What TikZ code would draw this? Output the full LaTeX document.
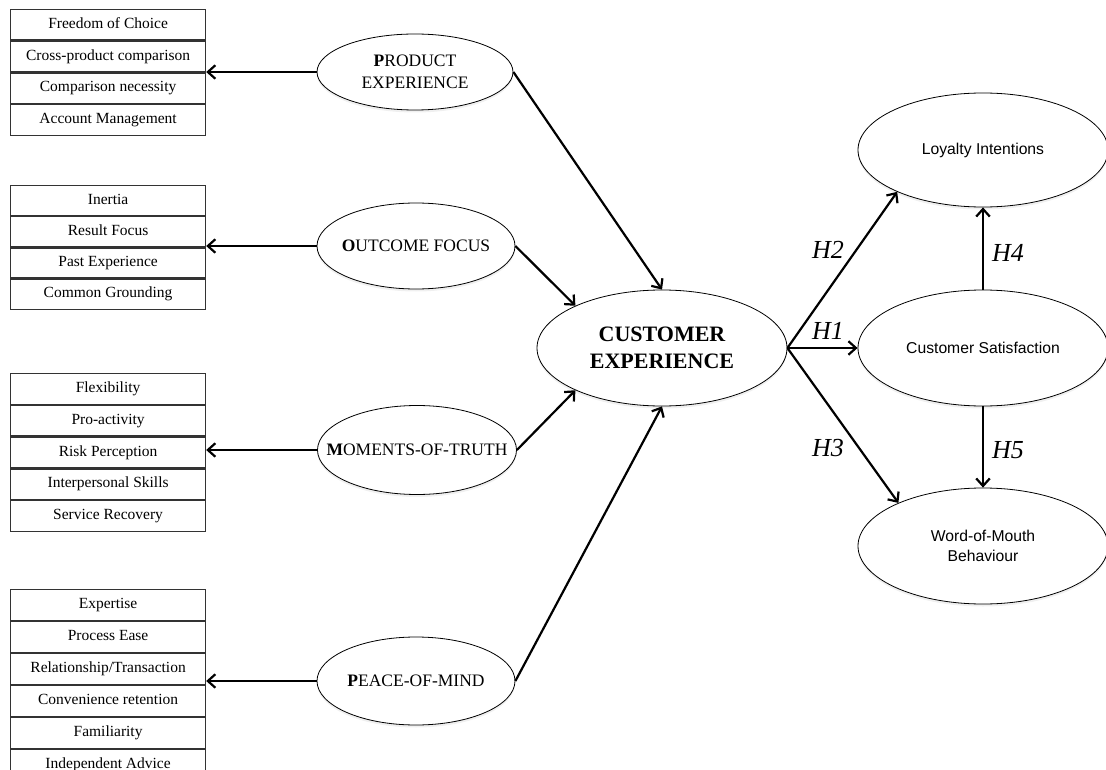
\documentclass[tikz,border=0pt]{standalone}
\usepackage{fontspec}
\setmainfont{Liberation Serif}
\setsansfont{Liberation Sans}
\usetikzlibrary{arrows.meta,shapes.geometric,shadows}

\tikzset{
  item/.style={draw=black!80, line width=1.2pt, minimum width=195pt, minimum height=30.5pt,
    inner sep=0pt, anchor=north west, text height=10.5pt, text depth=3.5pt,
    font=\fontsize{15.5}{18}\selectfont},
  oval/.style={ellipse, draw, line width=0.8pt, fill=white, inner sep=0pt,
    drop shadow={shadow xshift=0pt, shadow yshift=-2.5pt, opacity=0.12}},
  factor/.style={oval, label={[align=center, inner sep=0pt,
    font=\fontsize{17.5}{22}\selectfont]center:#1}},
  core/.style={oval, label={[align=center, inner sep=0pt,
    font=\bfseries\fontsize{22}{27}\selectfont]center:#1}},
  outcome/.style={oval, label={[align=center, inner sep=0pt,
    font=\sffamily\fontsize{15.7}{20}\selectfont]center:#1}},
  link/.style={line width=2.2pt, -{Straight Barb[length=7.5pt,width=13.5pt]}},
  hyp/.style={font=\itshape\fontsize{26}{28}\selectfont, inner sep=0pt},
}

\begin{document}
\begin{tikzpicture}[x=1pt,y=-1pt]
\useasboundingbox (0,0) rectangle (1106,770);

% ---- measure boxes ----
\node[item] (a1) at (10,9)     {Freedom of Choice};
\node[item] (a2) at (a1.south west) {Cross-product comparison};
\node[item] (a3) at (a2.south west) {Comparison necessity};
\node[item] (a4) at (a3.south west) {Account Management};

\node[item, minimum height=30pt] (b1) at (10,185) {Inertia};
\node[item, minimum height=30pt] (b2) at (b1.south west) {Result Focus};
\node[item, minimum height=30pt] (b3) at (b2.south west) {Past Experience};
\node[item, minimum height=30pt] (b4) at (b3.south west) {Common Grounding};

\node[item, minimum height=30.6pt] (c1) at (10,373) {Flexibility};
\node[item, minimum height=30.6pt] (c2) at (c1.south west) {Pro-activity};
\node[item, minimum height=30.6pt] (c3) at (c2.south west) {Risk Perception};
\node[item, minimum height=30.6pt] (c4) at (c3.south west) {Interpersonal Skills};
\node[item, minimum height=30.6pt] (c5) at (c4.south west) {Service Recovery};

\node[item, minimum height=30.8pt] (d1) at (10,589) {Expertise};
\node[item, minimum height=30.8pt] (d2) at (d1.south west) {Process Ease};
\node[item, minimum height=30.8pt] (d3) at (d2.south west) {Relationship/Transaction};
\node[item, minimum height=30.8pt] (d4) at (d3.south west) {Convenience retention};
\node[item, minimum height=30.8pt] (d5) at (d4.south west) {Familiarity};
\node[item, minimum height=30.8pt] (d6) at (d5.south west) {Independent Advice};

% ---- first-order factors ----
\node[factor={\textbf{P}RODUCT\\EXPERIENCE}, minimum width=196pt, minimum height=76pt] (pe) at (415,72) {};
\node[factor={\textbf{O}UTCOME FOCUS}, minimum width=198pt, minimum height=86pt] (of) at (416,246) {};
\node[factor={\textbf{M}OMENTS-OF-TRUTH}, minimum width=199pt, minimum height=89pt] (mt) at (417,450) {};
\node[factor={\textbf{P}EACE-OF-MIND}, minimum width=198pt, minimum height=88pt] (pm) at (416,681) {};

% ---- central construct ----
\node[core={CUSTOMER\\EXPERIENCE}, minimum width=250pt, minimum height=116pt] (ce) at (662,348) {};

% ---- outcomes ----
\node[outcome={Loyalty Intentions}, minimum width=250pt, minimum height=114pt] (li) at (983,150) {};
\node[outcome={Customer Satisfaction}, minimum width=250pt, minimum height=116pt] (cs) at (983,348) {};
\node[outcome={Word-of-Mouth\\Behaviour}, minimum width=250pt, minimum height=116pt] (wm) at (983,546) {};

% ---- factors to their measures ----
\draw[link] (pe.west) -- (pe.west -| a2.east);
\draw[link] (of.west) -- (of.west -| b2.east);
\draw[link] (mt.west) -- (mt.west -| c3.east);
\draw[link] (pm.west) -- (pm.west -| d3.east);

% ---- factors to customer experience ----
\draw[link] (pe.east) -- (ce.north);
\draw[link] (of.east) -- (ce.154);
\draw[link] (mt.east) -- (ce.206);
\draw[link] (pm.east) -- (ce.south);

% ---- hypotheses ----
\draw[link] (ce.east) -- (li.206);
\draw[link] (ce.east) -- (cs.west);
\draw[link] (ce.east) -- (wm.153);
\draw[link] (cs.north) -- (li.south);
\draw[link] (cs.south) -- (wm.north);

\node[hyp] (h2) at (828,250) {H2};
\node[hyp] (h1) at (828,331) {H1};
\node[hyp] (h3) at (828,448) {H3};
\node[hyp] (h4) at (1008,253) {H4};
\node[hyp] (h5) at (1008,450) {H5};
\end{tikzpicture}
\end{document}
